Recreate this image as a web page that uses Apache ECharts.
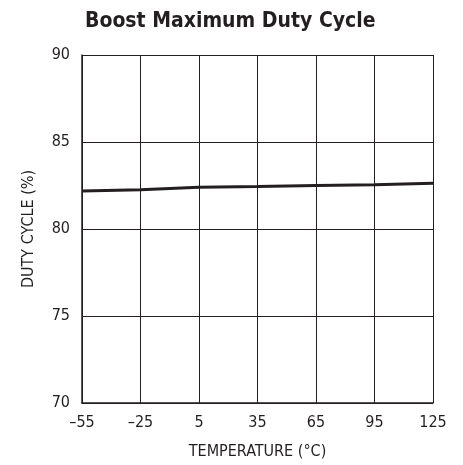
<!DOCTYPE html>
<html>
<head>
<meta charset="utf-8">
<script src="https://cdn.jsdelivr.net/npm/echarts@6/dist/echarts.min.js"></script>
<style>
  html, body { margin: 0; padding: 0; background: #fff; }
  #main { width: 463px; height: 465px; }
</style>
</head>
<body>
<div id="main"></div>
<script>
// 温度 (°C) 与占空比 (%)
var temps = [-55, -25, 5, 35, 65, 95, 125];
var dutyCycle = [82.18, 82.25, 82.4, 82.44, 82.5, 82.55, 82.63];

var font = '"Liberation Sans Narrow", "DejaVu Sans Condensed", "Liberation Sans", sans-serif';
var ink = '#231f20';

var myChart = echarts.init(document.getElementById('main'));

var option = {
  animation: false,
  title: {
    text: 'Boost Maximum Duty Cycle',
    left: 80,
    top: 6,
    textStyle: {
      color: ink,
      fontFamily: font,
      fontWeight: 'bold',
      fontSize: 21
    }
  },
  grid: {
    left: 82,
    right: 30,
    top: 55,
    bottom: 58
  },
  xAxis: {
    type: 'value',
    min: -55,
    max: 125,
    interval: 30,
    name: 'TEMPERATURE (°C)',
    nameLocation: 'middle',
    nameGap: 41,
    nameTextStyle: { color: ink, fontFamily: font, fontSize: 16 },
    axisLine: { onZero: false, lineStyle: { color: ink, width: 1.5 } },
    axisTick: { show: false },
    axisLabel: {
      color: ink,
      fontFamily: font,
      fontSize: 16,
      margin: 12,
      formatter: function (v) { return String(v).replace('-', '–'); }
    },
    splitLine: { show: true, lineStyle: { color: ink, width: 1 } }
  },
  yAxis: {
    type: 'value',
    min: 70,
    max: 90,
    interval: 5,
    name: 'DUTY CYCLE (%)',
    nameLocation: 'middle',
    nameGap: 45,
    nameTextStyle: { color: ink, fontFamily: font, fontSize: 16 },
    axisLine: { show: true, onZero: false, lineStyle: { color: ink, width: 1.5 } },
    axisTick: { show: false },
    axisLabel: { color: ink, fontFamily: font, fontSize: 16, margin: 12 },
    splitLine: { show: true, lineStyle: { color: ink, width: 1 } }
  },
  series: [
    {
      type: 'line',
      data: temps.map(function (t, i) { return [t, dutyCycle[i]]; }),
      symbol: 'none',
      lineStyle: { color: ink, width: 3 }
    }
  ]
};

myChart.setOption(option);
</script>
</body>
</html>
